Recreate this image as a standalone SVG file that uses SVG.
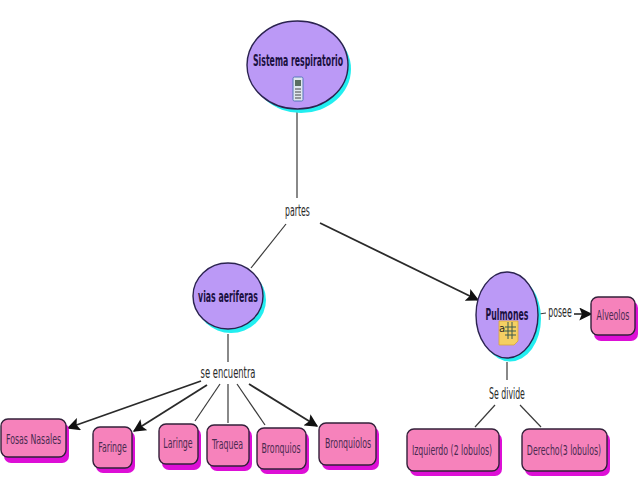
<svg xmlns="http://www.w3.org/2000/svg" width="638" height="479" viewBox="0 0 638 479">
<style>
text{font-family:"DejaVu Sans","Liberation Sans",sans-serif;text-anchor:middle;font-size:15px;fill:#2a2a2a}
.c{fill:#bb99f6;stroke:#2b2350;stroke-width:1.4}
.cs{fill:#22eef0}
.r{fill:#f682bb;stroke:#33203a;stroke-width:1.4}
.rs{fill:#dd0fd6}
.t{font-weight:bold;fill:#1a1040}
.n{fill:#4a2a50;font-size:14px}
.l{stroke:#3a3a3a;stroke-width:1.2;fill:none}
.a{stroke:#2a2a2a;stroke-width:1.8;fill:none;marker-end:url(#ah)}
</style>
<defs>
<marker id="ah" viewBox="0 0 10 10" refX="9" refY="5" markerWidth="13" markerHeight="13" markerUnits="userSpaceOnUse" orient="auto"><path d="M0 0L10 5L0 10L2 5Z" fill="#111"/></marker>
</defs>
<rect width="638" height="479" fill="#fff"/>
<g id="connectors">
<path class="l" d="M297 109V198"/>
<path class="l" d="M286 224L251 268"/>
<path class="a" d="M320 223L478 300"/>
<path class="l" d="M228 334V362"/>
<path class="a" d="M201 381L68 428"/>
<path class="a" d="M207 385L134 431"/>
<path class="l" d="M220 384L195 421"/>
<path class="l" d="M228 384V423"/>
<path class="l" d="M237 384L265 425"/>
<path class="a" d="M249 384L317 426"/>
<path class="l" d="M507 362V380"/>
<path class="l" d="M495 405L475 427"/>
<path class="l" d="M520 405L541 427"/>
<path class="l" d="M539 314L546 313"/>
<path class="a" d="M574 314L591 314" style="stroke-width:1.6"/>
</g>
<g id="sistema"><ellipse class="cs" cx="301" cy="69" rx="50" ry="44"/><ellipse class="c" cx="297.500" cy="65" rx="50.500" ry="44"/>
<text class="t" transform="translate(298 66) scale(.52 1)">Sistema respiratorio</text>
<rect x="293" y="77" width="10" height="24" rx="1.500" fill="#dfe6ee" stroke="#5577bb"/>
<rect x="295" y="80" width="6" height="6" fill="#5a6f60"/>
<path d="M295 89H301M295 92H301M295 95H301M295 98H301" stroke="#333" stroke-width="0.900"/>
</g>
<g id="vias"><ellipse class="cs" cx="231" cy="300" rx="35" ry="33"/><ellipse class="c" cx="228" cy="296" rx="35" ry="33"/>
<text class="t" transform="translate(228 302) scale(.52 1)">vias aeriferas</text></g>
<g id="pulmones"><ellipse class="cs" cx="510" cy="318.500" rx="31" ry="43"/><ellipse class="c" cx="507" cy="315" rx="31" ry="43"/>
<text class="t" transform="translate(507 320) scale(.52 1)">Pulmones</text>
<path d="M499 321H518V341L514 345H499Z" fill="#f5cf63" stroke="#d9a53a" stroke-width="0.800"/>
<text x="502" y="332" style="font-size:10px">a</text>
<path d="M508 322V339M512 322V339M505 327H516M505 331H516M505 335H516" stroke="#3a5a50" stroke-width="1"/>
</g>
<g id="alveolos"><rect class="rs" x="594" y="301" width="44" height="40" rx="7"/><rect class="r" x="591" y="297" width="44" height="38" rx="7"/>
<text class="n" transform="translate(613 320) scale(.56 1)">Alveolos</text></g>
<g id="fosas"><rect class="rs" x="4" y="423" width="65" height="40" rx="7"/><rect class="r" x="1" y="419" width="65" height="38" rx="7"/>
<text class="n" transform="translate(33.500 444) scale(.56 1)">Fosas Nasales</text></g>
<g id="faringe"><rect class="rs" x="96" y="431" width="39" height="42" rx="7"/><rect class="r" x="93" y="427" width="39" height="41" rx="7"/>
<text class="n" transform="translate(112.500 452) scale(.56 1)">Faringe</text></g>
<g id="laringe"><rect class="rs" x="162" y="428" width="39" height="42" rx="7"/><rect class="r" x="159" y="424" width="39" height="40" rx="7"/>
<text class="n" transform="translate(178 448) scale(.56 1)">Laringe</text></g>
<g id="traquea"><rect class="rs" x="210" y="429" width="42" height="42" rx="7"/><rect class="r" x="207" y="425" width="42" height="41" rx="7"/>
<text class="n" transform="translate(227.500 449) scale(.56 1)">Traquea</text></g>
<g id="bronquios"><rect class="rs" x="260" y="432" width="49" height="42" rx="7"/><rect class="r" x="257" y="428" width="49" height="41" rx="7"/>
<text class="n" transform="translate(281 453) scale(.56 1)">Bronquios</text></g>
<g id="bronquiolos"><rect class="rs" x="322" y="427" width="57" height="43" rx="7"/><rect class="r" x="319" y="423" width="57" height="42" rx="7"/>
<text class="n" transform="translate(348 448) scale(.56 1)">Bronquiolos</text></g>
<g id="izquierdo"><rect class="rs" x="410" y="433" width="92" height="43" rx="7"/><rect class="r" x="407" y="429" width="92" height="42" rx="7"/>
<text class="n" transform="translate(452 455) scale(.56 1)">Izquierdo (2 lobulos)</text></g>
<g id="derecho"><rect class="rs" x="525" y="433" width="85" height="43" rx="7"/><rect class="r" x="522" y="429" width="85" height="42" rx="7"/>
<text class="n" transform="translate(564 455) scale(.56 1)">Derecho(3 lobulos)</text></g>
<g id="lp"><text transform="translate(297.500 216) scale(.52 1)">partes</text></g>
<g id="le"><text transform="translate(228 378) scale(.56 1)">se encuentra</text></g>
<g id="lpo"><text transform="translate(560 317) scale(.52 1)">posee</text></g>
<g id="ld"><text transform="translate(507 399) scale(.52 1)">Se divide</text></g>
</svg>
